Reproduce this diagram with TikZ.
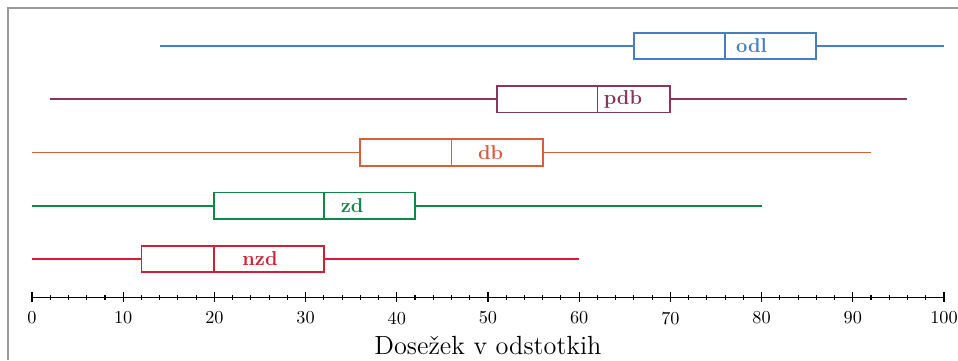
\documentclass[tikz,border=0pt]{standalone}
\usepackage{tikz}

\definecolor{colodl}{RGB}{70,125,195}
\definecolor{colpdb}{RGB}{135,55,95}
\definecolor{coldb}{RGB}{215,95,60}
\definecolor{colzd}{RGB}{15,135,70}
\definecolor{colnzd}{RGB}{210,30,55}

\begin{document}
\begin{tikzpicture}[x=5pt,y=29.2pt]
\useasboundingbox (-3.51,-0.897) rectangle (101.54,5.864);

% frame
\draw[gray!80,line width=0.6pt] (-2.63,-0.897) -- (-2.63,5.714) -- (101.54,5.714);

% box plots: row / min / Q1 / median / Q3 / max / label x / label
\foreach \y/\lo/\qa/\me/\qb/\hi/\lx/\lab in {5/14/66/76/86/100/78.9/odl,
                                             4/2/51/62/70/96/64.8/pdb,
                                             3/0/36/46/56/92/50.3/db,
                                             2/0/20/32/42/80/35.1/zd,
                                             1/0/12/20/32/60/25/nzd} {
    \draw[line width=1pt,col\lab] (\lo,\y) -- (\qa,\y) (\qb,\y) -- (\hi,\y);
    \draw[line width=1pt,col\lab,fill=white] (\qa,\y-0.25) rectangle (\qb,\y+0.25);
    \draw[line width=1pt,col\lab] (\me,\y-0.25) -- (\me,\y+0.25);
    \node[col\lab,font=\fontsize{11}{13}\selectfont\bfseries] at (\lx,\y) {\lab};
}

% axis
\draw[line width=0.6pt] (0,0.286) -- (100,0.286);
\foreach \t in {0,2,...,100}
    \draw[line width=0.6pt] (\t,0.286) ++(0,-1.4pt) -- ++(0,2.8pt);
\foreach \t in {0,10,...,100} {
    \draw[line width=0.6pt] (\t,0.286) ++(0,-2.7pt) -- ++(0,5.4pt);
    \node at (\t,-0.108) {\t};
}

% Labels
\node[font=\Large] at (50,-0.615) {Dosežek v odstotkih};
\end{tikzpicture}
\end{document}
